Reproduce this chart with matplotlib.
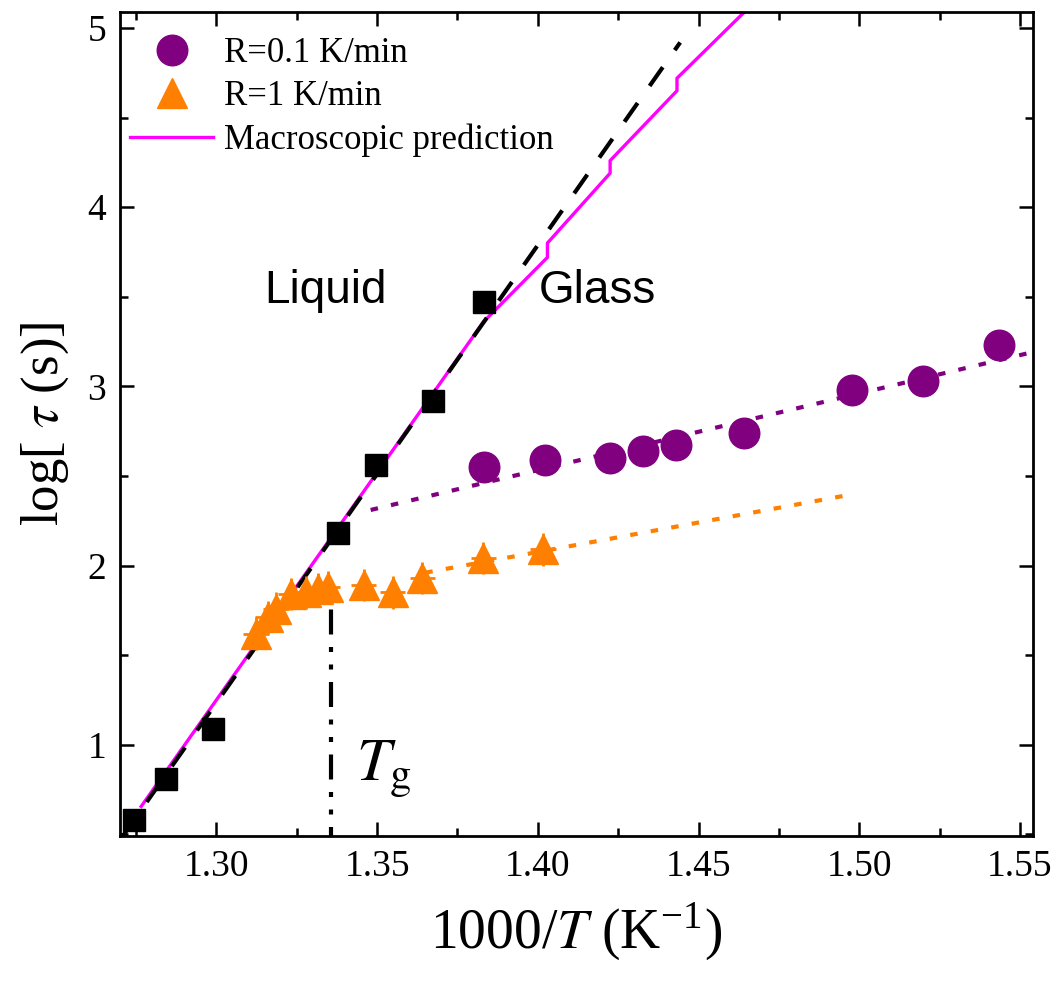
import numpy as np
import matplotlib
matplotlib.use('Agg')
import matplotlib.pyplot as plt
from matplotlib.ticker import MultipleLocator

plt.rcParams['font.family'] = ['Liberation Serif', 'DejaVu Serif']
plt.rcParams['mathtext.fontset'] = 'stix'

# liquid (black squares)
sq_x = [1.2744, 1.2843, 1.2989, 1.3377, 1.3498, 1.3675, 1.3834]
sq_y = [0.58, 0.81, 1.09, 2.18, 2.56, 2.92, 3.47]

# R = 0.1 K/min
circ_x = [1.3834, 1.4023, 1.4225, 1.4328, 1.4430, 1.4641, 1.4977, 1.5200, 1.5436]
circ_y = [2.55, 2.59, 2.60, 2.64, 2.67, 2.74, 2.98, 3.03, 3.23]

# R = 1 K/min
tri_x = [1.3123, 1.3160, 1.3185, 1.3231, 1.3278, 1.3315, 1.3346, 1.3458,
         1.3548, 1.3641, 1.3831, 1.4017]
tri_y = [1.62, 1.71, 1.76, 1.84, 1.85, 1.87, 1.88, 1.89, 1.85, 1.93, 2.04, 2.09]
tri_yerr = 0.09
tri_xerr = 0.004

# fit lines
dash_x = [1.2705, 1.4443]
dash_y = [0.48, 4.92]
mag_x = [1.2766, 1.3831, 1.4030, 1.4030, 1.4225, 1.4225, 1.4433, 1.4433, 1.466]
mag_y = [0.655, 3.36, 3.72, 3.80, 4.19, 4.26, 4.65, 4.72, 5.12]
pdot_x = [1.348, 1.556]
pdot_y = [2.31, 3.20]
odot_x = [1.365, 1.4986]
odot_y = [1.96, 2.40]
tg_x = 1.3356
tg_top = 1.80

purple = '#800080'
orange = '#FF8000'
magenta = '#FF00FF'

fig = plt.figure(figsize=(10.56, 9.81), dpi=100)
ax = fig.add_axes([0.1136, 0.1478, 0.978 - 0.1136, 0.9878 - 0.1478])

h_mag, = ax.plot(mag_x, mag_y, color=magenta, lw=2.4, zorder=2)
ax.plot(dash_x, dash_y, color='black', lw=3, dashes=(5.5, 5), zorder=3)
ax.plot(pdot_x, pdot_y, color=purple, lw=3, dashes=(1.8, 3.2), zorder=2)
ax.plot(odot_x, odot_y, color=orange, lw=3, dashes=(1.8, 3.2), zorder=2)
ax.plot([tg_x, tg_x], [0.4, tg_top], color='black', lw=3,
        dashes=(6, 3, 1.2, 3, 1.2, 3), zorder=2)

ax.plot(sq_x, sq_y, 's', color='black', ms=16, zorder=5)
ax.errorbar(tri_x, tri_y, yerr=tri_yerr, xerr=tri_xerr, fmt='none',
            ecolor=orange, elinewidth=2, capsize=0, zorder=4)
h_tri, = ax.plot(tri_x, tri_y, '^', color=orange, ms=21, zorder=5)
h_circ, = ax.plot(circ_x, circ_y, 'o', color=purple, ms=22, zorder=5)

ax.text(1.3341, 3.53, 'Liquid', family='Liberation Sans', fontsize=33,
        ha='center', va='center')
ax.text(1.4185, 3.53, 'Glass', family='Liberation Sans', fontsize=33,
        ha='center', va='center')
ax.text(1.3435, 0.86, r'$T_{\rm g}$', fontsize=44, ha='left', va='center')

ax.set_xlim(1.27, 1.554)
ax.set_ylim(0.49, 5.09)
ax.xaxis.set_minor_locator(MultipleLocator(0.025))
ax.yaxis.set_major_locator(MultipleLocator(1))
ax.yaxis.set_minor_locator(MultipleLocator(0.5))
ax.set_xticks([1.30, 1.35, 1.40, 1.45, 1.50, 1.55])
ax.set_xticklabels(['1.30', '1.35', '1.40', '1.45', '1.50', '1.55'])
ax.tick_params(which='both', direction='in', top=True, right=True, width=1.8,
               labelsize=27, pad=10)
ax.tick_params(which='major', length=10)
ax.tick_params(which='minor', length=6)
for s in ax.spines.values():
    s.set_linewidth(2)

ax.set_xlabel(r'1000/$T$ (K$^{\mathregular{-1}}$)', fontsize=40, labelpad=12)
ax.set_ylabel(r'log[ $\tau$ (s)]', fontsize=38, labelpad=12)

ax.legend([h_circ, h_tri, h_mag], ['R=0.1 K/min', 'R=1 K/min', 'Macroscopic prediction'],
          loc='upper left', bbox_to_anchor=(-0.012, 0.995), frameon=False,
          fontsize=25, handlelength=2.4, handletextpad=0.3, labelspacing=0.3,
          borderaxespad=0.2, markerscale=1.0)

fig.savefig('out.png', dpi=100)
